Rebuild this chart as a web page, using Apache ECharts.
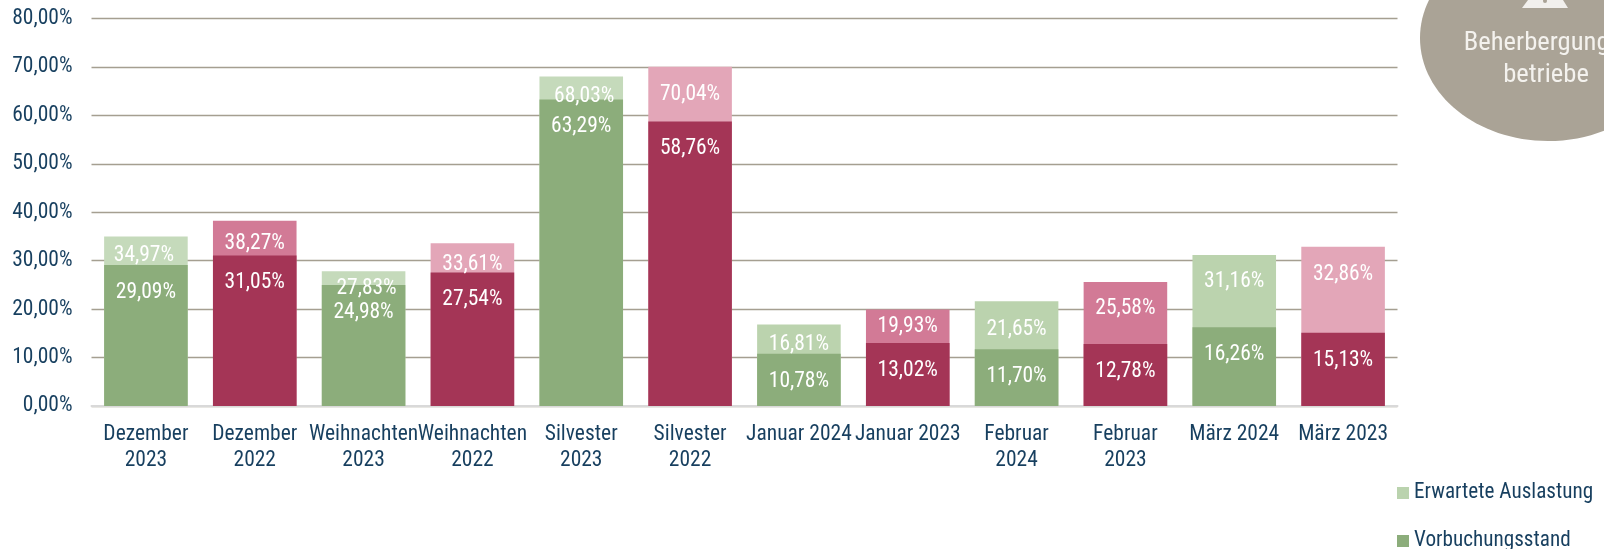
<!DOCTYPE html>
<html><head><meta charset="utf-8">
<style>html,body{margin:0;padding:0;background:#fff;overflow:hidden}#c{width:1604px;height:549px}</style>
<script src="https://cdn.jsdelivr.net/npm/echarts@6/dist/echarts.min.js"></script>
</head><body><div id="c"></div>
<script>
const categories = ['Dezember\n2023','Dezember\n2022','Weihnachten\n2023','Weihnachten\n2022','Silvester\n2023','Silvester\n2022','Januar 2024','Januar 2023','Februar\n2024','Februar\n2023','März 2024','März 2023'];
const erwartet = [34.97,38.27,27.83,33.61,68.03,70.04,16.81,19.93,21.65,25.58,31.16,32.86];
const vorbuchung = [29.09,31.05,24.98,27.54,63.29,58.76,10.78,13.02,11.70,12.78,16.26,15.13];
const erwartetColors = ['#c5dabb','#d27a96','#c5dabb','#e3a6b8','#c5dabb','#e3a6b8','#bbd3ae','#d27a96','#bbd3ae','#d27a96','#bbd3ae','#e3a6b8'];
const vorbuchungColors = ['#8cad7b','#a43556','#8cad7b','#a43556','#8cad7b','#a43556','#8cad7b','#a43556','#8cad7b','#a43556','#8cad7b','#a43556'];
const lightLabelDistance = [8,12,6,10,9,17,9,6,17,16,16,17];
const lightLabelShift = [-2,0,3,0,3,0,0,0,0,0,0,0];
const FONT = 'Roboto,sans-serif';
const STRETCH = 'condensed';
const SIZE = 21.5;
const NAVY = '#173f5f';
const fmt = v => v.toFixed(2).replace('.', ',') + '%';
const lab = {show:true, position:'insideTop', color:'#fff', fontFamily:FONT, fontStyle:STRETCH, fontSize:SIZE, formatter:p=>fmt(p.value)};
const chart = echarts.init(document.getElementById('c'), null, {renderer:'canvas'});
const legendText = {color:NAVY, fontFamily:FONT, fontStyle:STRETCH, fontSize:21.2};
chart.setOption({
  animation:false,
  backgroundColor:'#fff',
  grid:{left:91.5, right:206.5, top:18.5, bottom:143},
  legend:[
    {left:1392, top:477.5, itemWidth:12, itemHeight:12, itemGap:4, icon:'rect', textStyle:legendText, data:[{name:'Erwartete Auslastung', itemStyle:{color:'#bad3ae'}}]},
    {left:1392, top:525.5, itemWidth:12, itemHeight:12, itemGap:4, icon:'rect', textStyle:legendText, data:[{name:'Vorbuchungsstand', itemStyle:{color:'#8cad7b'}}]}
  ],
  xAxis:{type:'category', data:categories, axisTick:{show:false},
    axisLine:{lineStyle:{color:'#d9d9d9', width:2}},
    axisLabel:{color:NAVY, fontFamily:FONT, fontStyle:STRETCH, fontSize:SIZE, lineHeight:26, margin:16, interval:0}},
  yAxis:{type:'value', min:0, max:80, interval:10,
    axisLine:{show:false}, axisTick:{show:false},
    axisLabel:{color:NAVY, fontFamily:FONT, fontStyle:STRETCH, fontSize:SIZE, margin:19, padding:[2,0,0,0], formatter:v=>fmt(v)},
    splitLine:{lineStyle:{color:'#a59f91', width:1.4}}},
  series:[
    {name:'Erwartete Auslastung', type:'bar', barWidth:'76.8%', barGap:'-100%',
     itemStyle:{color:'#bad3ae'},
     data:erwartet.map((v,i)=>({value:v,itemStyle:{color:erwartetColors[i]},label:{distance:lightLabelDistance[i],offset:[lightLabelShift[i],0]}})), label:lab},
    {name:'Vorbuchungsstand', type:'bar', barWidth:'76.8%',
     itemStyle:{color:'#8cad7b'},
     data:vorbuchung.map((v,i)=>({value:v,itemStyle:{color:vorbuchungColors[i]}})), label:{...lab, distance:16.5}}
  ],
  graphic:[
    {type:'ellipse', shape:{cx:1548, cy:38, rx:128, ry:103}, style:{fill:'#aaa396'}, z:1},
    {type:'polygon', shape:{points:[[1528,0],[1563,0],[1568,8],[1522,8]]}, style:{fill:'#f2f0ed'}, z:2},
    {type:'circle', shape:{cx:1545, cy:1, r:2}, style:{fill:'#aaa396'}, z:3},
    {type:'text', x:1546, y:43, z:3, style:{text:'Beherbergungs-', fill:'#f4f2ee', font:STRETCH+' 26.6px '+FONT, align:'center', verticalAlign:'middle'}},
    {type:'text', x:1546, y:75, z:3, style:{text:'betriebe', fill:'#f4f2ee', font:STRETCH+' 26.6px '+FONT, align:'center', verticalAlign:'middle'}}
  ]
});
</script></body></html>
